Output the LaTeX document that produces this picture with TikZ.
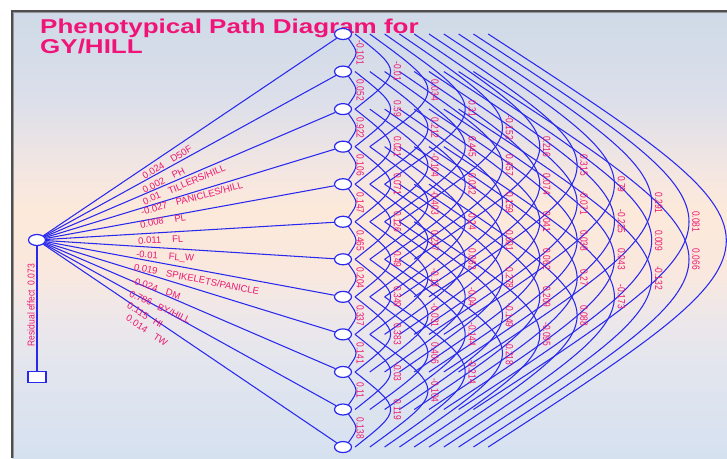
\documentclass[tikz,border=0pt]{standalone}
\usepackage{fontspec}
\setmainfont{Liberation Sans}
\newfontfamily\narrowfont[FakeStretch=0.8]{Liberation Sans}
\newfontfamily\resfont[FakeStretch=0.85]{Liberation Sans}
\newfontfamily\titlefont[FakeStretch=1.3]{Liberation Sans}
\usetikzlibrary{shapes.geometric,calc}

\definecolor{linkblue}{RGB}{40,40,238}
\definecolor{labelpink}{RGB}{236,24,112}
\definecolor{titlepink}{RGB}{240,20,120}
\definecolor{framegray}{RGB}{78,78,78}
\definecolor{framelight}{RGB}{150,150,150}
\definecolor{bgA}{RGB}{214,225,240}
\definecolor{bgB}{RGB}{221,228,239}
\definecolor{bgC}{RGB}{234,231,236}
\definecolor{bgD}{RGB}{250,232,222}
\definecolor{bgE}{RGB}{252,233,218}
\definecolor{bgF}{RGB}{243,230,226}
\definecolor{bgG}{RGB}{220,223,234}
\definecolor{bgH}{RGB}{207,218,232}
\pgfdeclareverticalshading{bgshade}{100bp}{color(0bp)=(bgA); color(25bp)=(bgA); color(31.5bp)=(bgB); color(39.3bp)=(bgC); color(46.1bp)=(bgD); color(52.8bp)=(bgE); color(57.3bp)=(bgF); color(65.1bp)=(bgG); color(75bp)=(bgH); color(100bp)=(bgH)}

\pgfdeclarelayer{bg}
\pgfdeclarelayer{lines}
\pgfsetlayers{bg,lines,main}

\tikzset{
  trait/.style={ellipse, draw=linkblue, fill=white, line width=1.2pt,
    minimum width=17pt, minimum height=11pt, inner sep=0pt},
  resbox/.style={rectangle, draw=linkblue, fill=white, line width=1.2pt,
    minimum width=18pt, minimum height=11pt, inner sep=0pt},
  link/.style={draw=linkblue, line width=1.05pt},
  corrlink/.style={draw=linkblue, line width=1.05pt},
  corrlab/.style={rotate=-90, inner sep=0pt, text=labelpink,
    font=\narrowfont\fontsize{10.5}{10}\selectfont},
  leftlab/.style={anchor=west, inner sep=0pt, text=labelpink,
    font=\fontsize{9.5}{10}\selectfont},
  reslab/.style={rotate=90, inner sep=0pt, text=labelpink,
    font=\resfont\fontsize{10}{10}\selectfont},
  titletext/.style={inner sep=0pt, text=titlepink,
    font=\titlefont\bfseries\fontsize{20}{22}\selectfont}
}

\newcommand{\corrarc}[2]{%
  \pgfmathtruncatemacro\corrD{#2-#1}%
  \pgfmathsetmacro\corrA{ifthenelse(\corrD==1,5,12+14.8*(\corrD-2))}%
  \pgfmathsetmacro\corrY{ifthenelse(\corrD==1,4,0)}%
  \pgfmathsetmacro\corrL{37.3*\corrD-20}%
  \pgfmathsetmacro\corrB{ifthenelse(\corrD==1,13,\corrL-7)}%
  \pgfmathsetmacro\corrC{(8*\corrB-2*\corrA)/6}%
  \begin{pgfonlayer}{lines}
  \draw[corrlink] ($(N#1.center)+(\corrA,\corrY)$) .. controls ($(N#1.center)!0.5!(N#2.center)+(\corrC,0)$) .. ($(N#2.center)+(\corrA,-\corrY)$);
  \end{pgfonlayer}%
}
\newcommand{\corr}[3]{%
  \corrarc{#1}{#2}%
  \node[corrlab] (c#1x#2) at ($(N#1.center)!0.5!(N#2.center)+(\corrL,0)$) {#3};%
}

\begin{document}
\begin{tikzpicture}[x=1pt,y=-1pt]
\useasboundingbox (0,0) rectangle (727,458);

\begin{pgfonlayer}{bg}
  \fill[white] (0,0) rectangle (727,458);
  \shade[shading=bgshade] (12,11) rectangle (727,458);
  \draw[framelight, line width=1pt] (13.5,458) -- (13.5,12.5) -- (727,12.5);
  \draw[framegray, line width=2pt] (11.5,458) -- (11.5,11) -- (727,11);
  \node[titletext, anchor=base west] (T1) at (40,33) {Phenotypical Path Diagram for};
  \node[titletext, anchor=base west] (T2) at (40,53.5) {GY/HILL};
\end{pgfonlayer}

% trait nodes
\foreach \i in {0,...,11} {
  \node[trait] (N\i) at (343,{34+37.55*\i}) {};
}
\node[trait] (L) at (37,240) {};
\node[resbox] (R) at (37,377) {};

\begin{pgfonlayer}{lines}
  \foreach \i in {0,...,11} { \draw[link] (L) -- (N\i); }
  \draw[link] (L) -- (R);
\end{pgfonlayer}

\node[reslab] (res) at (31,305) {Residual effect\hspace{5pt}0.073};

% direct effects
\node[leftlab, rotate=31]  (d0)  at (143,177) {0.024\hspace{9pt}D50F};
\node[leftlab, rotate=27]  (d1)  at (143,191) {0.002\hspace{9pt}PH};
\node[leftlab, rotate=23]  (d2)  at (143,202) {0.01\hspace{9pt}TILLERS/HILL};
\node[leftlab, rotate=15]  (d3)  at (141,212) {-0.027\hspace{9pt}PANICLES/HILL};
\node[leftlab, rotate=10]  (d4)  at (140,225) {0.008\hspace{11pt}PL};
\node[leftlab, rotate=3]   (d5)  at (138,241) {0.011\hspace{11pt}FL};
\node[leftlab, rotate=-4]  (d6)  at (136,255) {-0.01\hspace{11pt}FL\_W};
\node[leftlab, rotate=-11] (d7)  at (134,267) {0.019\hspace{9pt}SPIKELETS/PANICLE};
\node[leftlab, rotate=-19] (d8)  at (132,280) {-0.024\hspace{9pt}DM};
\node[leftlab, rotate=-25] (d9)  at (130,293) {0.786\hspace{7pt}BY/HILL};
\node[leftlab, rotate=-31] (d10) at (128,305) {0.115\hspace{7pt}HI};
\node[leftlab, rotate=-34] (d11) at (127,317) {0.014\hspace{9pt}TW};

% correlations, distance 1
\corr{0}{1}{-0.101}
\corr{1}{2}{0.052}
\corr{2}{3}{0.922}
\corr{3}{4}{0.106}
\corr{4}{5}{0.147}
\corr{5}{6}{0.465}
\corr{6}{7}{0.204}
\corr{7}{8}{0.337}
\corr{8}{9}{0.141}
\corr{9}{10}{0.11}
\corr{10}{11}{0.138}
% distance 2
\corr{0}{2}{-0.01}
\corr{1}{3}{0.59}
\corr{2}{4}{0.021}
\corr{3}{5}{0.071}
\corr{4}{6}{0.126}
\corr{5}{7}{0.49}
\corr{6}{8}{0.349}
\corr{7}{9}{0.383}
\corr{8}{10}{-0.03}
\corr{9}{11}{0.119}
% distance 3
\corr{0}{3}{0.034}
\corr{1}{4}{0.212}
\corr{2}{5}{-0.104}
\corr{3}{6}{-0.403}
\corr{4}{7}{0.237}
\corr{5}{8}{-0.13}
\corr{6}{9}{-0.031}
\corr{7}{10}{0.406}
\corr{8}{11}{-0.104}
% distance 4
\corr{0}{4}{0.31}
\corr{1}{5}{0.445}
\corr{2}{6}{0.032}
\corr{3}{7}{0.24}
\corr{4}{8}{0.062}
\corr{5}{9}{-0.04}
\corr{6}{10}{-0.144}
\corr{7}{11}{-0.214}
% distance 5
\corr{0}{5}{-0.152}
\corr{1}{6}{0.457}
\corr{2}{7}{0.159}
\corr{3}{8}{0.001}
\corr{4}{9}{0.278}
\corr{5}{10}{-0.149}
\corr{6}{11}{-0.218}
% distance 6
\corr{0}{6}{0.216}
\corr{1}{7}{0.074}
\corr{2}{8}{0.041}
\corr{3}{9}{0.062}
\corr{4}{10}{0.209}
\corr{5}{11}{-0.095}
% distance 7
\corr{0}{7}{0.315}
\corr{1}{8}{-0.071}
\corr{2}{9}{0.038}
\corr{3}{10}{0.27}
\corr{4}{11}{0.088}
% distance 8
\corr{0}{8}{0.79}
\corr{1}{9}{-0.225}
\corr{2}{10}{0.043}
\corr{3}{11}{-0.173}
% distance 9
\corr{0}{9}{0.291}
\corr{1}{10}{0.009}
\corr{2}{11}{-0.132}
% distance 10
\corr{0}{10}{0.081}
\corr{1}{11}{0.066}
% distance 11 (label outside the picture)
\corrarc{0}{11}
\end{tikzpicture}
\end{document}
